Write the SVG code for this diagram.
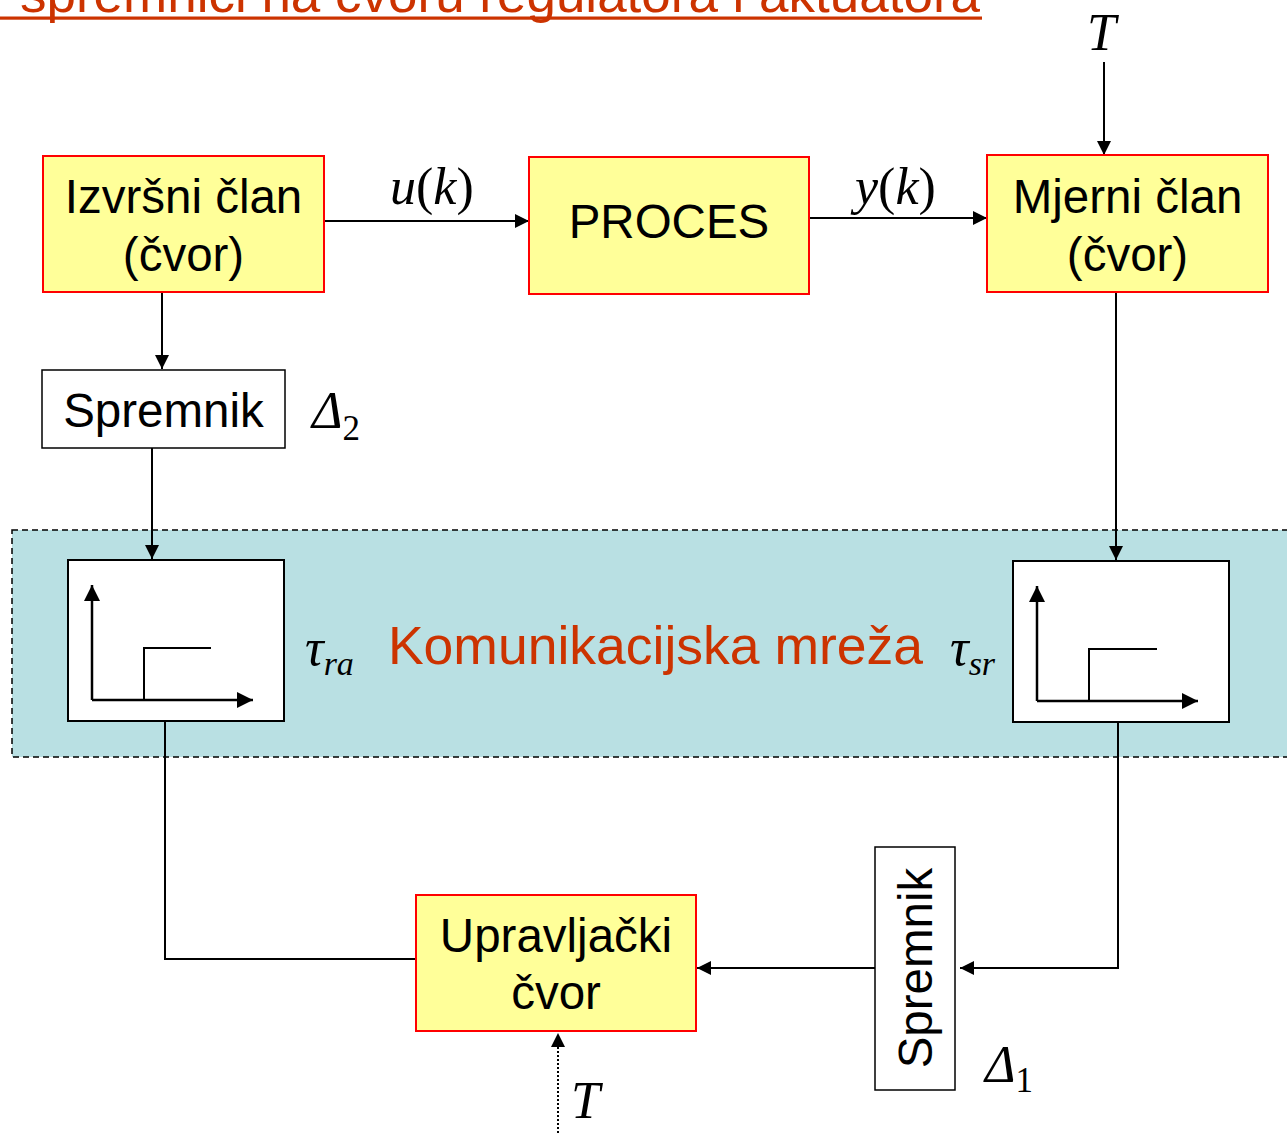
<svg xmlns="http://www.w3.org/2000/svg" width="1287" height="1133" viewBox="0 0 1287 1133">
  <style>
    .node { fill: #ffff99; stroke: #ff0000; stroke-width: 2; }
    .plain { fill: #ffffff; stroke: #000000; stroke-width: 2; }
    .lbl { font-family: "Liberation Sans", Arial, sans-serif; font-size: 47.5px; fill: #000000; text-anchor: middle; }
    .math { font-family: "Liberation Serif", "Times New Roman", serif; font-style: italic; font-size: 52px; fill: #000000; }
    .up { font-style: normal; }
    .wire { fill: none; stroke: #000000; stroke-width: 2; }
    .axis { fill: none; stroke: #000000; stroke-width: 2.5; }
    .title { font-family: "Liberation Sans", Arial, sans-serif; font-size: 52px; fill: #cc3300; }
  </style>
  <defs>
    <marker id="arr" viewBox="0 0 14 14" refX="14" refY="7" markerWidth="14" markerHeight="14" markerUnits="userSpaceOnUse" orient="auto">
      <path d="M0,0 L14,7 L0,14 z" fill="#000000"/>
    </marker>
    <marker id="arrBig" viewBox="0 0 16 16" refX="16" refY="8" markerWidth="16" markerHeight="16" markerUnits="userSpaceOnUse" orient="auto">
      <path d="M0,0 L16,8 L0,16 z" fill="#000000"/>
    </marker>
  </defs>

  <rect width="1287" height="1133" fill="#ffffff"/>

  <!-- heading, partly above the page edge -->
  <g id="heading">
    <text class="title" x="20" y="12" textLength="960" lengthAdjust="spacingAndGlyphs">spremnici na čvoru regulatora i aktuatora</text>
    <rect x="0" y="16.5" width="982" height="3.2" fill="#cc3300"/>
  </g>

  <!-- communication network band -->
  <g id="network">
    <rect x="12" y="530" width="1290" height="227" fill="#b9e0e3" stroke="#000000" stroke-width="1.5" stroke-dasharray="6,4"/>
    <text x="655.5" y="664" font-family="Liberation Sans, Arial, sans-serif" font-size="53.5" fill="#cc3300" text-anchor="middle">Komunikacijska mreža</text>
  </g>

  <g id="connectors">
    <!-- Izvršni član -> PROCES -->
    <line class="wire" x1="324" y1="221" x2="529" y2="221" marker-end="url(#arr)"/>
    <!-- PROCES -> Mjerni član -->
    <line class="wire" x1="809" y1="218" x2="987" y2="218" marker-end="url(#arr)"/>
    <!-- T -> Mjerni član -->
    <line class="wire" x1="1104" y1="62" x2="1104" y2="155" marker-end="url(#arr)"/>
    <!-- Izvršni član -> Spremnik -->
    <line class="wire" x1="162" y1="292" x2="162" y2="369" marker-end="url(#arr)"/>
    <!-- Spremnik -> delay block (ra) -->
    <line class="wire" x1="152" y1="448" x2="152" y2="559" marker-end="url(#arr)"/>
    <!-- Mjerni član -> delay block (sr) -->
    <line class="wire" x1="1116" y1="292" x2="1116" y2="560" marker-end="url(#arr)"/>
    <!-- delay block (ra) -> Upravljački čvor -->
    <polyline class="wire" points="165,721 165,959 417,959"/>
    <!-- delay block (sr) -> Spremnik -->
    <polyline class="wire" points="1118,722 1118,968 960,968" marker-end="url(#arr)"/>
    <!-- Spremnik -> Upravljački čvor -->
    <line class="wire" x1="875" y1="968" x2="697" y2="968" marker-end="url(#arr)"/>
    <!-- T (dotted) -> Upravljački čvor -->
    <line x1="558" y1="1133" x2="558" y2="1033" stroke="#000000" stroke-width="2" stroke-dasharray="2,2" marker-end="url(#arr)"/>
  </g>

  <g id="izvrsni-clan">
    <rect class="node" x="43" y="156" width="281" height="136"/>
    <text class="lbl" x="183.5" y="213">Izvršni član</text>
    <text class="lbl" x="183.5" y="271">(čvor)</text>
  </g>

  <g id="proces">
    <rect class="node" x="529" y="157" width="280" height="137"/>
    <text class="lbl" x="669" y="238">PROCES</text>
  </g>

  <g id="mjerni-clan">
    <rect class="node" x="987" y="155" width="281" height="137"/>
    <text class="lbl" x="1127.5" y="213">Mjerni član</text>
    <text class="lbl" x="1127.5" y="271">(čvor)</text>
  </g>

  <g id="spremnik-2">
    <rect x="42" y="370" width="243" height="78" fill="#ffffff" stroke="#000000" stroke-width="1.5"/>
    <text class="lbl" x="163.5" y="427">Spremnik</text>
    <text class="math" x="312" y="428">Δ<tspan class="up" font-size="35" dy="12">2</tspan></text>
  </g>

  <g id="kasnjenje-ra">
    <rect class="plain" x="68" y="560" width="216" height="161"/>
    <line class="axis" x1="92" y1="700" x2="92" y2="585" marker-end="url(#arrBig)"/>
    <line class="axis" x1="92" y1="700" x2="253" y2="700" marker-end="url(#arrBig)"/>
    <polyline class="wire" points="144,700 144,648 211,648"/>
    <text class="math" x="305" y="665">τ<tspan font-size="34" dy="10">ra</tspan></text>
  </g>

  <g id="kasnjenje-sr">
    <rect class="plain" x="1013" y="561" width="216" height="161"/>
    <line class="axis" x1="1037" y1="701" x2="1037" y2="586" marker-end="url(#arrBig)"/>
    <line class="axis" x1="1037" y1="701" x2="1198" y2="701" marker-end="url(#arrBig)"/>
    <polyline class="wire" points="1089,701 1089,649 1157,649"/>
    <text class="math" x="950" y="665">τ<tspan font-size="34" dy="10">sr</tspan></text>
  </g>

  <g id="upravljacki-cvor">
    <rect class="node" x="416" y="895" width="280" height="136"/>
    <text class="lbl" x="556" y="952">Upravljački</text>
    <text class="lbl" x="556" y="1009">čvor</text>
  </g>

  <g id="spremnik-1">
    <rect x="875" y="847" width="80" height="243" fill="#ffffff" stroke="#000000" stroke-width="1.5"/>
    <text class="lbl" transform="translate(932,968) rotate(-90)">Spremnik</text>
    <text class="math" x="985" y="1082">Δ<tspan class="up" font-size="35" dy="10">1</tspan></text>
  </g>

  <!-- variable labels -->
  <g id="labels">
    <text class="math" x="390" y="204">u<tspan class="up">(</tspan>k<tspan class="up">)</tspan></text>
    <text class="math" x="855" y="204">y<tspan class="up">(</tspan>k<tspan class="up">)</tspan></text>
    <text class="math" x="1087" y="50">T</text>
    <text class="math" x="571" y="1118">T</text>
  </g>
</svg>
